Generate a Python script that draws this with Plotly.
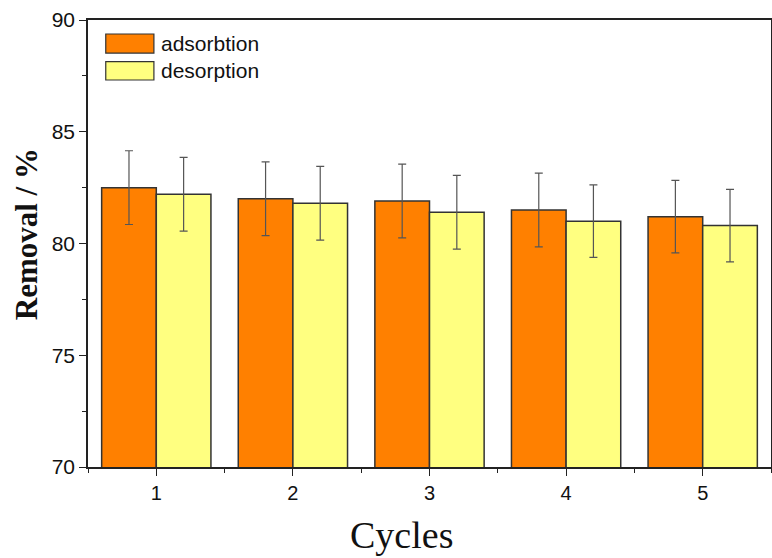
import plotly.graph_objects as go

cycles = [1, 2, 3, 4, 5]
adsorption = [82.5, 82.0, 81.9, 81.5, 81.2]
desorption = [82.2, 81.8, 81.4, 81.0, 80.8]
ads_err = [1.65, 1.65, 1.65, 1.65, 1.62]
des_err = [1.65, 1.65, 1.65, 1.62, 1.62]
series_names = ["adsorbtion", "desorption"]
colors = ["#FF8000", "#FFFF80"]
x_title = "Cycles"
y_title = "<b>Removal / %</b>"

fig = go.Figure()
for name, vals, errs, col in zip(series_names, [adsorption, desorption], [ads_err, des_err], colors):
    fig.add_trace(go.Bar(
        x=cycles, y=vals, name=name,
        marker=dict(color=col, line=dict(color="#333333", width=1.5)),
        error_y=dict(type="data", array=errs, visible=True, color="#555555", thickness=1.2, width=4),
        showlegend=False,
    ))

# legend drawn manually for large swatches
legend_boxes = [(0.9687, 0.926), (0.9067, 0.8658)]
for (name, col), (top, bot) in zip(zip(series_names, colors), legend_boxes):
    fig.add_shape(type="rect", xref="paper", yref="paper",
                  x0=0.026, x1=0.0965, y0=bot, y1=top,
                  fillcolor=col, line=dict(color="#333333", width=1.2))
    fig.add_annotation(xref="paper", yref="paper", x=0.104, y=(top + bot) / 2,
                       text=name, showarrow=False, xanchor="left", yanchor="middle",
                       font=dict(family="Liberation Sans, Arial", size=21, color="#111111"))

# axis titles (offset from the axis centre as in the reference)
fig.add_annotation(xref="paper", yref="paper", x=-0.0906, y=0.521, text=y_title, textangle=-90,
                   showarrow=False, xanchor="center", yanchor="middle",
                   font=dict(family="Liberation Serif, Times New Roman", size=31, color="#111111"))
fig.add_annotation(xref="paper", yref="paper", x=(402 - 88) / 684, y=-0.152, text=x_title,
                   showarrow=False, xanchor="center", yanchor="middle",
                   font=dict(family="Liberation Serif, Times New Roman", size=38, color="#111111"))

fig.update_layout(
    width=772, height=558,
    margin=dict(l=88, r=1, t=20, b=91),
    plot_bgcolor="white", paper_bgcolor="white",
    barmode="group", bargap=0.2, bargroupgap=0,
    xaxis=dict(
        range=[0.5, 5.5], tickvals=cycles, ticktext=[str(c) for c in cycles],
        automargin=False,
        showline=True, linecolor="#222222", linewidth=1.5, mirror=True,
        ticks="outside", ticklen=7, tickwidth=1.2, tickcolor="#222222",
        minor=dict(tickvals=[0.5, 1.5, 2.5, 3.5, 4.5, 5.5], ticks="outside", ticklen=4, tickcolor="#222222"),
        showgrid=False, zeroline=False,
        tickfont=dict(family="Liberation Sans, Arial", size=20, color="#111111"),
    ),
    yaxis=dict(
        range=[70, 90], tickvals=[70, 75, 80, 85, 90],
        automargin=False,
        showline=True, linecolor="#222222", linewidth=1.5, mirror=True,
        ticks="outside", ticklen=7, tickwidth=1.2, tickcolor="#222222",
        minor=dict(tickvals=[72.5, 77.5, 82.5, 87.5], ticks="outside", ticklen=4, tickcolor="#222222"),
        showgrid=False, zeroline=False,
        tickfont=dict(family="Liberation Sans, Arial", size=21, color="#111111"),
    ),
)

fig.write_html("out.html", config={"displayModeBar": False},
               post_script="document.body.style.margin='0';document.body.style.overflow='hidden';")
